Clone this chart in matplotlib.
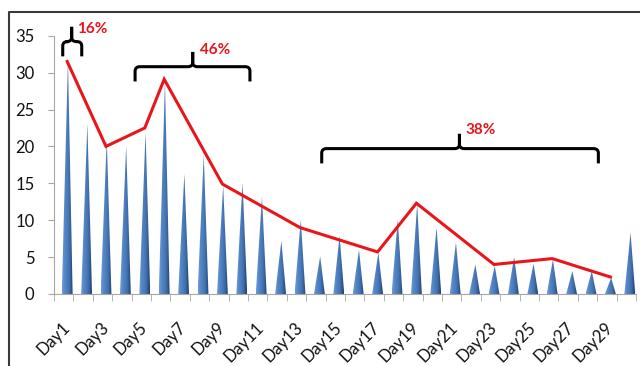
import numpy as np
import matplotlib.pyplot as plt
from matplotlib.path import Path
from matplotlib.patches import PathPatch, Polygon
from matplotlib.colors import LinearSegmentedColormap
from matplotlib.lines import Line2D

plt.rcParams['font.family'] = ['Lato', 'DejaVu Sans']

# data
days = ["Day%d" % d for d in range(1, 31)]
counts = [31.7, 23.1, 21.0, 20.1, 21.9, 28.8, 16.3, 18.9, 14.7, 15.1,
          13.2, 7.2, 10.1, 5.1, 7.9, 6.0, 5.6, 10.1, 12.2, 9.0,
          7.0, 4.0, 3.8, 5.0, 4.1, 4.7, 3.1, 3.1, 2.2, 8.3]
trend_days = [1, 3, 5, 6, 9, 13, 17, 19, 23, 26, 29]
trend_vals = [31.5, 20.0, 22.5, 29.1, 14.9, 9.0, 5.7, 12.3, 4.0, 4.8, 2.3]
brace_labels = ["16%", "46%", "38%"]

# brace layout: (x start, x end, tip x, bar y, label x, label y) in day-index units
brace_layout = [(-0.05, 0.93, 0.41, 34.2, 0.7, 35.9),
                (3.68, 9.6, 6.65, 30.8, 7.0, 33.1),
                (13.3, 27.56, 20.4, 19.7, 20.7, 22.2)]

cone_cmap = LinearSegmentedColormap.from_list(
    "cone", ["#6f9dd8", "#5587c8", "#4a7cbc", "#3a68a3", "#1f3d66"])

# pseudo-3d: cones and line sit a bit right of the category centres
depth = 0.18


def draw_brace(ax, x0, x1, xt, yh, rx=0.25, ry=0.6, hook=2.0, spike=2.0):
    '''curly brace opening downwards with the spike at xt'''
    for xa, sgn in ((x0, 1), (x1, -1)):
        verts = [(xa, yh - hook), (xa, yh - ry), (xa, yh), (xa + sgn * rx, yh),
                 (xt - sgn * rx, yh), (xt, yh), (xt, yh + ry), (xt, yh + spike)]
        codes = [Path.MOVETO, Path.LINETO, Path.CURVE3, Path.CURVE3,
                 Path.LINETO, Path.CURVE3, Path.CURVE3, Path.LINETO]
        ax.add_patch(PathPatch(Path(verts, codes), fill=False, lw=2.2,
                               edgecolor='black', clip_on=False, zorder=5,
                               capstyle='butt', joinstyle='round'))


fig = plt.figure(figsize=(6.4, 3.66), dpi=100)
ax = fig.add_axes([54 / 640, 72 / 366, 582 / 640, 258.3 / 366])

grad = np.linspace(0, 1, 64).reshape(1, -1)
half_w = 0.28
for i, h in enumerate(counts):
    xc = i + depth
    tri = Polygon([(xc - half_w, 0), (xc + half_w, 0), (xc + 0.04, h)],
                  closed=True, facecolor='none', edgecolor='none')
    ax.add_patch(tri)
    im = ax.imshow(grad, extent=[xc - half_w, xc + half_w, 0, h], aspect='auto',
                   cmap=cone_cmap, interpolation='bilinear', zorder=2)
    im.set_clip_path(tri)

ax.plot([d - 1 + depth for d in trend_days], trend_vals, color='#e8161b',
        lw=2.2, zorder=4, solid_joinstyle='miter')

for (x0, x1, xt, yh, lx, ly), lab in zip(brace_layout, brace_labels):
    draw_brace(ax, x0, x1, xt, yh)
    ax.text(lx, ly, lab, color='#e8161b', fontsize=11, fontweight='bold',
            ha='left', va='center', clip_on=False, zorder=6)

ax.set_xlim(-0.5, 29.5)
ax.set_ylim(0, 35)
ax.set_yticks(range(0, 36, 5))
ax.set_xticks([i + depth for i in range(0, 30, 2)])
ax.set_xticklabels(days[::2], rotation=45, ha='right', va='center',
                   rotation_mode='anchor')
ax.set_xticks(np.arange(-0.5, 30, 1), minor=True)
ax.tick_params(axis='x', which='major', length=0, pad=22, labelsize=12,
               labelcolor='#111111')
ax.tick_params(axis='x', which='minor', length=5, color='#a6a6a6')
ax.tick_params(axis='y', length=4, color='#a6a6a6', pad=10, labelsize=12,
               labelcolor='#111111')
for s in ('top', 'right'):
    ax.spines[s].set_visible(False)
for s in ('left', 'bottom'):
    ax.spines[s].set_color('#a6a6a6')

# outer frame (only left and top edges visible)
fig.add_artist(Line2D([9 / 640, 9 / 640, 1], [0, 1 - 12 / 366, 1 - 12 / 366],
                      transform=fig.transFigure, color='#3a3a3a', lw=1.5))

fig.savefig("out.png", dpi=100)
